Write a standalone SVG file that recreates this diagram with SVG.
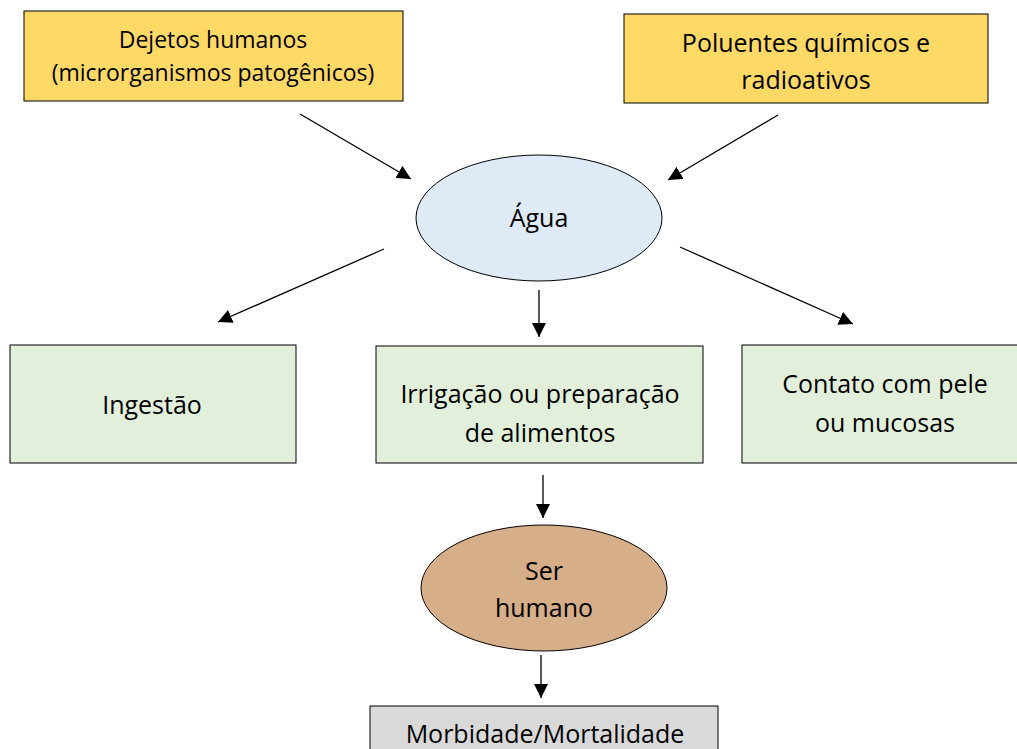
<svg xmlns="http://www.w3.org/2000/svg" width="1017" height="749" viewBox="0 0 1017 749">
<defs>
<marker id="ah" viewBox="0 0 10 10" refX="10" refY="5" markerWidth="14" markerHeight="14" markerUnits="userSpaceOnUse" orient="auto">
<path d="M0,0 L10,5 L0,10 Z" fill="#000"/>
</marker>
<style>
.box{stroke:#000;stroke-width:1}
.y{fill:#FFD966}
.g{fill:#E2EFDA}
.b{fill:#DEEBF7}
.br{fill:#D6AE87}
.gr{fill:#D9D9D9}
text{font-family:"Open Sans","Liberation Sans",sans-serif;fill:#000;text-anchor:middle}
.c line{stroke:#000;stroke-width:1.3;marker-end:url(#ah)}
</style>
</defs>
<rect width="1017" height="749" fill="#fff"/>
<g id="n-dejetos"><rect class="box y" x="24" y="11" width="379" height="90"/>
<text x="213" y="48" font-size="23">Dejetos humanos</text>
<text x="213" y="81" font-size="23">(microrganismos patogênicos)</text></g>
<g id="n-poluentes"><rect class="box y" x="624" y="14" width="364" height="89"/>
<text x="806" y="52" font-size="25">Poluentes químicos e</text>
<text x="806" y="89" font-size="25">radioativos</text></g>
<g id="n-agua"><ellipse class="box b" cx="539" cy="218" rx="123" ry="63"/>
<text x="539" y="227" font-size="25">Água</text></g>
<g id="n-ingestao"><rect class="box g" x="10" y="345" width="286" height="118"/>
<text x="152" y="414" font-size="25">Ingestão</text></g>
<g id="n-irrigacao"><rect class="box g" x="376" y="346" width="327" height="117"/>
<text x="540" y="403" font-size="25">Irrigação ou preparação</text>
<text x="540" y="442" font-size="25">de alimentos</text></g>
<g id="n-contato"><rect class="box g" x="742" y="345" width="285" height="118"/>
<text x="885" y="393" font-size="25">Contato com pele</text>
<text x="885" y="432" font-size="25">ou mucosas</text></g>
<g id="n-ser"><ellipse class="box br" cx="544" cy="588" rx="123" ry="63"/>
<text x="544" y="580" font-size="25">Ser</text>
<text x="544" y="617" font-size="25">humano</text></g>
<g id="n-morb"><rect class="box gr" x="370" y="706" width="348" height="60"/>
<text x="545" y="743" font-size="25">Morbidade/Mortalidade</text></g>
<g id="connectors" class="c">
<line x1="300" y1="114" x2="411" y2="179"/>
<line x1="778" y1="115" x2="668" y2="180"/>
<line x1="384" y1="249" x2="218" y2="322"/>
<line x1="680" y1="247" x2="853" y2="324"/>
<line x1="539" y1="290" x2="539" y2="337"/>
<line x1="543" y1="475" x2="543" y2="518"/>
<line x1="541" y1="655" x2="541" y2="698"/>
</g>
</svg>
